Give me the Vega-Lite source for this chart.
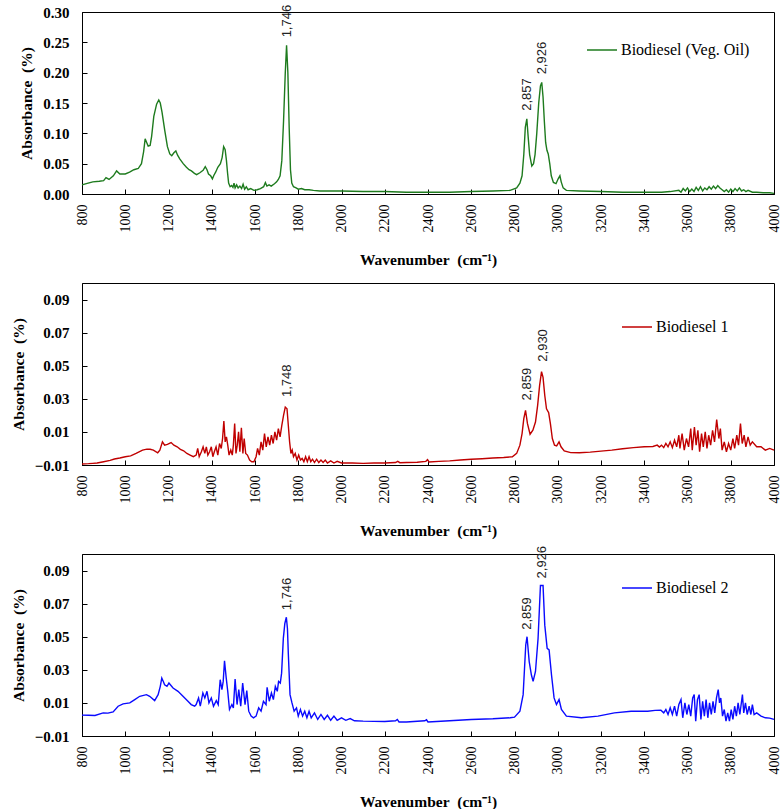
{
  "$schema": "https://vega.github.io/schema/vega-lite/v6.json",
  "padding": {"left": 10, "top": 4, "right": 0, "bottom": 0},
  "spacing": 89,
  "bounds": "flush",
  "resolve": {"scale": {"color": "independent"}, "legend": {"color": "independent"}},
  "datasets": {
    "veg": [
      {"wn":800,"a":0.015},{"wn":820,"a":0.017},{"wn":850,"a":0.020},{"wn":880,"a":0.021},{"wn":900,"a":0.022},{"wn":911,"a":0.027},{"wn":925,"a":0.024},{"wn":945,"a":0.030},{"wn":960,"a":0.038},{"wn":975,"a":0.033},{"wn":1000,"a":0.033},{"wn":1020,"a":0.036},{"wn":1040,"a":0.040},{"wn":1060,"a":0.042},{"wn":1075,"a":0.050},{"wn":1085,"a":0.070},{"wn":1092,"a":0.091},{"wn":1100,"a":0.084},{"wn":1106,"a":0.079},{"wn":1115,"a":0.080},{"wn":1122,"a":0.095},{"wn":1132,"a":0.128},{"wn":1145,"a":0.148},{"wn":1155,"a":0.155},{"wn":1162,"a":0.150},{"wn":1170,"a":0.135},{"wn":1183,"a":0.104},{"wn":1195,"a":0.078},{"wn":1206,"a":0.066},{"wn":1215,"a":0.063},{"wn":1225,"a":0.068},{"wn":1234,"a":0.071},{"wn":1242,"a":0.064},{"wn":1252,"a":0.058},{"wn":1268,"a":0.050},{"wn":1283,"a":0.044},{"wn":1295,"a":0.040},{"wn":1306,"a":0.038},{"wn":1320,"a":0.034},{"wn":1330,"a":0.032},{"wn":1345,"a":0.035},{"wn":1360,"a":0.039},{"wn":1370,"a":0.045},{"wn":1378,"a":0.040},{"wn":1385,"a":0.033},{"wn":1395,"a":0.030},{"wn":1403,"a":0.025},{"wn":1410,"a":0.031},{"wn":1418,"a":0.036},{"wn":1428,"a":0.044},{"wn":1440,"a":0.050},{"wn":1448,"a":0.060},{"wn":1455,"a":0.078},{"wn":1462,"a":0.073},{"wn":1468,"a":0.055},{"wn":1473,"a":0.035},{"wn":1478,"a":0.018},{"wn":1485,"a":0.012},{"wn":1492,"a":0.014},{"wn":1498,"a":0.011},{"wn":1503,"a":0.018},{"wn":1508,"a":0.010},{"wn":1515,"a":0.015},{"wn":1522,"a":0.010},{"wn":1530,"a":0.013},{"wn":1538,"a":0.009},{"wn":1545,"a":0.016},{"wn":1552,"a":0.008},{"wn":1560,"a":0.012},{"wn":1568,"a":0.007},{"wn":1580,"a":0.009},{"wn":1595,"a":0.006},{"wn":1610,"a":0.007},{"wn":1625,"a":0.009},{"wn":1640,"a":0.012},{"wn":1648,"a":0.019},{"wn":1655,"a":0.013},{"wn":1665,"a":0.015},{"wn":1675,"a":0.013},{"wn":1690,"a":0.017},{"wn":1700,"a":0.020},{"wn":1708,"a":0.024},{"wn":1716,"a":0.030},{"wn":1724,"a":0.055},{"wn":1732,"a":0.120},{"wn":1740,"a":0.200},{"wn":1746,"a":0.245},{"wn":1752,"a":0.200},{"wn":1758,"a":0.110},{"wn":1764,"a":0.040},{"wn":1770,"a":0.018},{"wn":1778,"a":0.012},{"wn":1790,"a":0.010},{"wn":1800,"a":0.008},{"wn":1815,"a":0.009},{"wn":1830,"a":0.007},{"wn":1850,"a":0.007},{"wn":1870,"a":0.006},{"wn":1900,"a":0.005},{"wn":1950,"a":0.005},{"wn":2000,"a":0.005},{"wn":2100,"a":0.004},{"wn":2200,"a":0.004},{"wn":2300,"a":0.003},{"wn":2400,"a":0.003},{"wn":2500,"a":0.003},{"wn":2600,"a":0.004},{"wn":2700,"a":0.005},{"wn":2780,"a":0.006},{"wn":2810,"a":0.010},{"wn":2825,"a":0.018},{"wn":2835,"a":0.030},{"wn":2843,"a":0.065},{"wn":2850,"a":0.110},{"wn":2857,"a":0.124},{"wn":2863,"a":0.095},{"wn":2870,"a":0.065},{"wn":2880,"a":0.046},{"wn":2888,"a":0.050},{"wn":2895,"a":0.065},{"wn":2903,"a":0.100},{"wn":2912,"a":0.150},{"wn":2920,"a":0.178},{"wn":2926,"a":0.184},{"wn":2932,"a":0.160},{"wn":2938,"a":0.120},{"wn":2944,"a":0.085},{"wn":2950,"a":0.072},{"wn":2956,"a":0.066},{"wn":2963,"a":0.050},{"wn":2970,"a":0.030},{"wn":2980,"a":0.019},{"wn":2992,"a":0.017},{"wn":3002,"a":0.025},{"wn":3010,"a":0.030},{"wn":3016,"a":0.020},{"wn":3025,"a":0.010},{"wn":3040,"a":0.006},{"wn":3100,"a":0.005},{"wn":3200,"a":0.004},{"wn":3300,"a":0.003},{"wn":3400,"a":0.003},{"wn":3480,"a":0.003},{"wn":3520,"a":0.004},{"wn":3560,"a":0.006},{"wn":3570,"a":0.003},{"wn":3580,"a":0.009},{"wn":3590,"a":0.005},{"wn":3600,"a":0.010},{"wn":3610,"a":0.004},{"wn":3620,"a":0.008},{"wn":3630,"a":0.004},{"wn":3640,"a":0.011},{"wn":3650,"a":0.006},{"wn":3660,"a":0.012},{"wn":3670,"a":0.005},{"wn":3680,"a":0.010},{"wn":3690,"a":0.007},{"wn":3700,"a":0.012},{"wn":3710,"a":0.008},{"wn":3720,"a":0.013},{"wn":3730,"a":0.009},{"wn":3740,"a":0.014},{"wn":3750,"a":0.010},{"wn":3760,"a":0.007},{"wn":3770,"a":0.004},{"wn":3780,"a":0.007},{"wn":3790,"a":0.003},{"wn":3800,"a":0.008},{"wn":3810,"a":0.004},{"wn":3820,"a":0.009},{"wn":3830,"a":0.005},{"wn":3840,"a":0.010},{"wn":3850,"a":0.005},{"wn":3860,"a":0.007},{"wn":3870,"a":0.004},{"wn":3880,"a":0.006},{"wn":3900,"a":0.003},{"wn":3920,"a":0.003},{"wn":3950,"a":0.002},{"wn":3980,"a":0.002},{"wn":4000,"a":0.001}
    ],
    "b1": [
      {"wn":800,"a":-0.0094},{"wn":830,"a":-0.0092},{"wn":850,"a":-0.009},{"wn":870,"a":-0.0088},{"wn":900,"a":-0.008},{"wn":930,"a":-0.0072},{"wn":950,"a":-0.0064},{"wn":975,"a":-0.0058},{"wn":1000,"a":-0.005},{"wn":1025,"a":-0.0045},{"wn":1050,"a":-0.003},{"wn":1080,"a":-0.001},{"wn":1100,"a":-0.0004},{"wn":1115,"a":-0.0005},{"wn":1130,"a":-0.001},{"wn":1150,"a":-0.0026},{"wn":1160,"a":-0.001},{"wn":1172,"a":0.004},{"wn":1182,"a":0.002},{"wn":1195,"a":0.0025},{"wn":1212,"a":0.0036},{"wn":1225,"a":0.002},{"wn":1240,"a":0.001},{"wn":1255,"a":-0.0005},{"wn":1270,"a":-0.0014},{"wn":1285,"a":-0.003},{"wn":1300,"a":-0.004},{"wn":1315,"a":-0.005},{"wn":1328,"a":-0.004},{"wn":1335,"a":0.0},{"wn":1342,"a":-0.005},{"wn":1352,"a":-0.002},{"wn":1360,"a":0.001},{"wn":1368,"a":-0.003},{"wn":1375,"a":0.001},{"wn":1382,"a":-0.004},{"wn":1390,"a":-0.002},{"wn":1398,"a":0.001},{"wn":1405,"a":-0.005},{"wn":1412,"a":-0.002},{"wn":1420,"a":0.001},{"wn":1428,"a":-0.004},{"wn":1436,"a":0.003},{"wn":1444,"a":0.0},{"wn":1450,"a":0.006},{"wn":1456,"a":0.0166},{"wn":1462,"a":0.004},{"wn":1468,"a":0.007},{"wn":1474,"a":0.002},{"wn":1480,"a":-0.004},{"wn":1488,"a":-0.001},{"wn":1495,"a":-0.004},{"wn":1500,"a":0.002},{"wn":1506,"a":0.015},{"wn":1512,"a":-0.003},{"wn":1518,"a":0.002},{"wn":1524,"a":0.010},{"wn":1530,"a":-0.002},{"wn":1537,"a":0.0125},{"wn":1544,"a":-0.003},{"wn":1550,"a":0.006},{"wn":1557,"a":-0.003},{"wn":1565,"a":-0.004},{"wn":1575,"a":-0.007},{"wn":1585,"a":-0.008},{"wn":1595,"a":-0.008},{"wn":1605,"a":-0.005},{"wn":1612,"a":0.0},{"wn":1620,"a":-0.004},{"wn":1628,"a":0.004},{"wn":1636,"a":-0.001},{"wn":1644,"a":0.009},{"wn":1652,"a":0.001},{"wn":1660,"a":0.007},{"wn":1668,"a":0.002},{"wn":1676,"a":0.008},{"wn":1684,"a":0.003},{"wn":1692,"a":0.010},{"wn":1700,"a":0.005},{"wn":1708,"a":0.012},{"wn":1716,"a":0.007},{"wn":1724,"a":0.014},{"wn":1732,"a":0.020},{"wn":1740,"a":0.025},{"wn":1748,"a":0.024},{"wn":1754,"a":0.014},{"wn":1760,"a":0.004},{"wn":1766,"a":-0.003},{"wn":1772,"a":-0.001},{"wn":1778,"a":-0.005},{"wn":1786,"a":-0.003},{"wn":1794,"a":-0.007},{"wn":1802,"a":-0.004},{"wn":1810,"a":-0.007},{"wn":1818,"a":-0.006},{"wn":1826,"a":-0.008},{"wn":1834,"a":-0.005},{"wn":1842,"a":-0.008},{"wn":1850,"a":-0.005},{"wn":1858,"a":-0.008},{"wn":1866,"a":-0.0065},{"wn":1875,"a":-0.0085},{"wn":1885,"a":-0.0065},{"wn":1895,"a":-0.0085},{"wn":1905,"a":-0.007},{"wn":1915,"a":-0.0085},{"wn":1925,"a":-0.007},{"wn":1935,"a":-0.0088},{"wn":1950,"a":-0.0075},{"wn":1965,"a":-0.0088},{"wn":1980,"a":-0.0078},{"wn":2000,"a":-0.0088},{"wn":2050,"a":-0.0088},{"wn":2100,"a":-0.009},{"wn":2150,"a":-0.0088},{"wn":2200,"a":-0.0088},{"wn":2250,"a":-0.0085},{"wn":2260,"a":-0.0078},{"wn":2270,"a":-0.0086},{"wn":2300,"a":-0.0085},{"wn":2350,"a":-0.0083},{"wn":2390,"a":-0.0078},{"wn":2398,"a":-0.0068},{"wn":2405,"a":-0.0082},{"wn":2450,"a":-0.0078},{"wn":2500,"a":-0.0075},{"wn":2550,"a":-0.007},{"wn":2600,"a":-0.0065},{"wn":2650,"a":-0.0062},{"wn":2700,"a":-0.0058},{"wn":2750,"a":-0.0055},{"wn":2790,"a":-0.005},{"wn":2810,"a":-0.003},{"wn":2825,"a":0.002},{"wn":2835,"a":0.009},{"wn":2843,"a":0.018},{"wn":2851,"a":0.023},{"wn":2860,"a":0.015},{"wn":2872,"a":0.0086},{"wn":2885,"a":0.011},{"wn":2897,"a":0.016},{"wn":2907,"a":0.026},{"wn":2916,"a":0.038},{"wn":2925,"a":0.0464},{"wn":2932,"a":0.043},{"wn":2940,"a":0.032},{"wn":2948,"a":0.024},{"wn":2958,"a":0.0216},{"wn":2966,"a":0.015},{"wn":2975,"a":0.006},{"wn":2985,"a":0.002},{"wn":2995,"a":0.0015},{"wn":3006,"a":0.004},{"wn":3015,"a":0.001},{"wn":3030,"a":-0.0015},{"wn":3060,"a":-0.0025},{"wn":3100,"a":-0.0026},{"wn":3150,"a":-0.0022},{"wn":3200,"a":-0.0016},{"wn":3250,"a":-0.001},{"wn":3300,"a":-0.0002},{"wn":3350,"a":0.0005},{"wn":3400,"a":0.001},{"wn":3440,"a":0.0012},{"wn":3460,"a":0.002},{"wn":3470,"a":0.0008},{"wn":3480,"a":0.002},{"wn":3490,"a":0.0005},{"wn":3500,"a":0.003},{"wn":3510,"a":0.001},{"wn":3520,"a":0.004},{"wn":3530,"a":0.0005},{"wn":3540,"a":0.005},{"wn":3550,"a":0.001},{"wn":3560,"a":0.008},{"wn":3565,"a":0.0},{"wn":3575,"a":0.009},{"wn":3585,"a":-0.001},{"wn":3595,"a":0.006},{"wn":3605,"a":0.001},{"wn":3615,"a":0.012},{"wn":3622,"a":-0.001},{"wn":3632,"a":0.013},{"wn":3640,"a":0.002},{"wn":3648,"a":0.011},{"wn":3656,"a":-0.002},{"wn":3665,"a":0.009},{"wn":3673,"a":0.001},{"wn":3682,"a":0.010},{"wn":3690,"a":0.0},{"wn":3698,"a":0.008},{"wn":3707,"a":0.002},{"wn":3716,"a":0.011},{"wn":3725,"a":0.004},{"wn":3735,"a":0.0175},{"wn":3745,"a":0.006},{"wn":3752,"a":0.012},{"wn":3760,"a":-0.001},{"wn":3770,"a":0.004},{"wn":3780,"a":-0.002},{"wn":3790,"a":0.003},{"wn":3800,"a":-0.001},{"wn":3810,"a":0.006},{"wn":3818,"a":0.0},{"wn":3828,"a":0.008},{"wn":3836,"a":0.002},{"wn":3845,"a":0.015},{"wn":3853,"a":0.003},{"wn":3862,"a":0.008},{"wn":3870,"a":0.001},{"wn":3880,"a":0.007},{"wn":3890,"a":0.002},{"wn":3900,"a":0.004},{"wn":3920,"a":0.001},{"wn":3940,"a":0.001},{"wn":3960,"a":-0.001},{"wn":3980,"a":0.0},{"wn":4000,"a":-0.001}
    ],
    "b2": [
      {"wn":800,"a":0.0026},{"wn":830,"a":0.0025},{"wn":860,"a":0.0024},{"wn":898,"a":0.004},{"wn":920,"a":0.0038},{"wn":944,"a":0.0046},{"wn":967,"a":0.008},{"wn":990,"a":0.0094},{"wn":1021,"a":0.010},{"wn":1044,"a":0.012},{"wn":1067,"a":0.014},{"wn":1098,"a":0.015},{"wn":1113,"a":0.014},{"wn":1136,"a":0.0114},{"wn":1152,"a":0.015},{"wn":1162,"a":0.020},{"wn":1169,"a":0.025},{"wn":1176,"a":0.023},{"wn":1182,"a":0.021},{"wn":1193,"a":0.020},{"wn":1202,"a":0.022},{"wn":1221,"a":0.019},{"wn":1244,"a":0.017},{"wn":1267,"a":0.014},{"wn":1290,"a":0.011},{"wn":1305,"a":0.009},{"wn":1321,"a":0.008},{"wn":1328,"a":0.009},{"wn":1339,"a":0.013},{"wn":1347,"a":0.008},{"wn":1359,"a":0.016},{"wn":1368,"a":0.013},{"wn":1378,"a":0.017},{"wn":1387,"a":0.010},{"wn":1398,"a":0.013},{"wn":1408,"a":0.008},{"wn":1421,"a":0.0114},{"wn":1430,"a":0.009},{"wn":1439,"a":0.024},{"wn":1447,"a":0.018},{"wn":1453,"a":0.023},{"wn":1459,"a":0.0354},{"wn":1467,"a":0.025},{"wn":1474,"a":0.017},{"wn":1482,"a":0.006},{"wn":1493,"a":0.009},{"wn":1500,"a":0.007},{"wn":1508,"a":0.0244},{"wn":1517,"a":0.009},{"wn":1525,"a":0.018},{"wn":1534,"a":0.008},{"wn":1543,"a":0.022},{"wn":1554,"a":0.009},{"wn":1562,"a":0.0174},{"wn":1571,"a":0.005},{"wn":1582,"a":0.002},{"wn":1593,"a":0.001},{"wn":1605,"a":0.002},{"wn":1617,"a":0.007},{"wn":1628,"a":0.005},{"wn":1639,"a":0.011},{"wn":1651,"a":0.009},{"wn":1656,"a":0.0194},{"wn":1666,"a":0.011},{"wn":1676,"a":0.016},{"wn":1685,"a":0.012},{"wn":1694,"a":0.020},{"wn":1703,"a":0.017},{"wn":1709,"a":0.023},{"wn":1717,"a":0.022},{"wn":1723,"a":0.028},{"wn":1731,"a":0.049},{"wn":1738,"a":0.058},{"wn":1745,"a":0.0618},{"wn":1750,"a":0.055},{"wn":1754,"a":0.040},{"wn":1762,"a":0.015},{"wn":1771,"a":0.010},{"wn":1781,"a":0.005},{"wn":1792,"a":0.007},{"wn":1800,"a":0.002},{"wn":1810,"a":0.006},{"wn":1820,"a":0.002},{"wn":1830,"a":0.005},{"wn":1840,"a":0.001},{"wn":1850,"a":0.005},{"wn":1860,"a":0.001},{"wn":1875,"a":0.004},{"wn":1890,"a":0.0},{"wn":1905,"a":0.003},{"wn":1920,"a":0.0},{"wn":1935,"a":0.0025},{"wn":1950,"a":-0.0005},{"wn":1965,"a":0.002},{"wn":1980,"a":-0.0005},{"wn":2000,"a":0.001},{"wn":2020,"a":-0.0005},{"wn":2040,"a":0.0005},{"wn":2060,"a":-0.0008},{"wn":2100,"a":-0.001},{"wn":2200,"a":-0.0012},{"wn":2250,"a":-0.0008},{"wn":2258,"a":0.0},{"wn":2266,"a":-0.0015},{"wn":2300,"a":-0.0015},{"wn":2385,"a":-0.0008},{"wn":2393,"a":-0.0002},{"wn":2400,"a":-0.0015},{"wn":2500,"a":-0.0008},{"wn":2600,"a":0.0},{"wn":2700,"a":0.0004},{"wn":2780,"a":0.001},{"wn":2800,"a":0.0014},{"wn":2825,"a":0.005},{"wn":2840,"a":0.015},{"wn":2852,"a":0.045},{"wn":2858,"a":0.050},{"wn":2868,"a":0.035},{"wn":2878,"a":0.027},{"wn":2886,"a":0.023},{"wn":2897,"a":0.029},{"wn":2909,"a":0.049},{"wn":2920,"a":0.081},{"wn":2932,"a":0.081},{"wn":2940,"a":0.057},{"wn":2951,"a":0.043},{"wn":2960,"a":0.042},{"wn":2971,"a":0.027},{"wn":2983,"a":0.013},{"wn":2994,"a":0.009},{"wn":3006,"a":0.012},{"wn":3017,"a":0.006},{"wn":3040,"a":0.002},{"wn":3109,"a":0.001},{"wn":3186,"a":0.002},{"wn":3262,"a":0.004},{"wn":3339,"a":0.005},{"wn":3416,"a":0.005},{"wn":3450,"a":0.0055},{"wn":3477,"a":0.0056},{"wn":3490,"a":0.004},{"wn":3500,"a":0.006},{"wn":3510,"a":0.003},{"wn":3520,"a":0.007},{"wn":3530,"a":0.003},{"wn":3540,"a":0.008},{"wn":3550,"a":0.002},{"wn":3560,"a":0.009},{"wn":3570,"a":0.012},{"wn":3578,"a":0.001},{"wn":3588,"a":0.010},{"wn":3597,"a":0.003},{"wn":3606,"a":0.009},{"wn":3615,"a":0.002},{"wn":3624,"a":0.013},{"wn":3631,"a":0.015},{"wn":3638,"a":-0.001},{"wn":3646,"a":0.012},{"wn":3654,"a":0.015},{"wn":3662,"a":0.0},{"wn":3670,"a":0.011},{"wn":3678,"a":0.002},{"wn":3686,"a":0.012},{"wn":3694,"a":0.001},{"wn":3702,"a":0.010},{"wn":3710,"a":0.003},{"wn":3718,"a":0.011},{"wn":3726,"a":0.004},{"wn":3734,"a":0.013},{"wn":3742,"a":0.018},{"wn":3748,"a":0.010},{"wn":3754,"a":0.013},{"wn":3762,"a":0.002},{"wn":3770,"a":0.006},{"wn":3778,"a":-0.001},{"wn":3786,"a":0.004},{"wn":3794,"a":-0.001},{"wn":3802,"a":0.006},{"wn":3810,"a":0.0},{"wn":3818,"a":0.008},{"wn":3826,"a":0.002},{"wn":3834,"a":0.010},{"wn":3842,"a":0.003},{"wn":3854,"a":0.015},{"wn":3860,"a":0.004},{"wn":3868,"a":0.010},{"wn":3876,"a":0.003},{"wn":3885,"a":0.008},{"wn":3893,"a":0.003},{"wn":3900,"a":0.009},{"wn":3908,"a":0.003},{"wn":3920,"a":0.004},{"wn":3940,"a":0.002},{"wn":3960,"a":0.001},{"wn":3980,"a":0.0008},{"wn":4000,"a":0.0}
    ],
    "veg_peaks": [{"wn":1746,"a":0.245,"label":"1,746"},{"wn":2857,"a":0.124,"label":"2,857"},{"wn":2926,"a":0.184,"label":"2,926"}],
    "b1_peaks": [{"wn":1748,"a":0.025,"label":"1,748"},{"wn":2859,"a":0.023,"label":"2,859"},{"wn":2930,"a":0.0464,"label":"2,930"}],
    "b2_peaks": [{"wn":1746,"a":0.0618,"label":"1,746"},{"wn":2859,"a":0.050,"label":"2,859"},{"wn":2926,"a":0.081,"label":"2,926"}]
  },
  "vconcat": [
    {
      "width": 692, "height": 182,
      "layer": [
        {
          "data": {"name": "veg"},
          "mark": {"type": "line", "strokeWidth": 1.4},
          "encoding": {
            "x": {"field": "wn", "type": "quantitative", "scale": {"domain": [800, 4000], "nice": false, "zero": false}, "axis": {"values": [800,1000,1200,1400,1600,1800,2000,2200,2400,2600,2800,3000,3200,3400,3600,3800,4000], "tickCount": 40, "format": "d", "labelOverlap": false, "labelFlush": false, "title": "Wavenumber\u00a0 (cm⁻¹)"}},
            "y": {"field": "a", "type": "quantitative", "scale": {"domain": [0, 0.3], "nice": false}, "axis": {"values": [0,0.05,0.1,0.15,0.2,0.25,0.3], "tickCount": 20, "format": ".2f", "labelOverlap": false, "labelFlush": false, "title": "Absorbance\u00a0 (%)"}},
            "color": {"datum": "Biodiesel (Veg. Oil)", "type": "nominal", "scale": {"domain": ["Biodiesel (Veg. Oil)"], "range": ["#1E7B1E"]}, "legend": {"orient": "none", "legendX": 504, "legendY": 22}}
          }
        },
        {
          "data": {"name": "veg_peaks"},
          "mark": {"type": "text", "angle": 270, "align": "left", "baseline": "middle", "dx": 8, "font": "Liberation Sans", "fontSize": 13, "color": "#222222"},
          "encoding": {
            "x": {"field": "wn", "type": "quantitative"},
            "y": {"field": "a", "type": "quantitative"},
            "text": {"field": "label"}
          }
        }
      ]
    },
    {
      "width": 692, "height": 182,
      "layer": [
        {
          "data": {"name": "b1"},
          "mark": {"type": "line", "strokeWidth": 1.4},
          "encoding": {
            "x": {"field": "wn", "type": "quantitative", "scale": {"domain": [800, 4000], "nice": false, "zero": false}, "axis": {"values": [800,1000,1200,1400,1600,1800,2000,2200,2400,2600,2800,3000,3200,3400,3600,3800,4000], "tickCount": 40, "format": "d", "labelOverlap": false, "labelFlush": false, "title": "Wavenumber\u00a0 (cm⁻¹)"}},
            "y": {"field": "a", "type": "quantitative", "scale": {"domain": [-0.01, 0.1], "nice": false, "zero": false}, "axis": {"values": [-0.01,0.01,0.03,0.05,0.07,0.09], "tickCount": 20, "format": ".2f", "labelOverlap": false, "labelFlush": false, "title": "Absorbance\u00a0 (%)"}},
            "color": {"datum": "Biodiesel 1", "type": "nominal", "scale": {"domain": ["Biodiesel 1"], "range": ["#C00000"]}, "legend": {"orient": "none", "legendX": 539, "legendY": 28}}
          }
        },
        {
          "data": {"name": "b1_peaks"},
          "mark": {"type": "text", "angle": 270, "align": "left", "baseline": "middle", "dx": 10, "font": "Liberation Sans", "fontSize": 13, "color": "#222222"},
          "encoding": {
            "x": {"field": "wn", "type": "quantitative"},
            "y": {"field": "a", "type": "quantitative"},
            "text": {"field": "label"}
          }
        }
      ]
    },
    {
      "width": 692, "height": 182,
      "layer": [
        {
          "data": {"name": "b2"},
          "mark": {"type": "line", "strokeWidth": 1.4},
          "encoding": {
            "x": {"field": "wn", "type": "quantitative", "scale": {"domain": [800, 4000], "nice": false, "zero": false}, "axis": {"values": [800,1000,1200,1400,1600,1800,2000,2200,2400,2600,2800,3000,3200,3400,3600,3800,4000], "tickCount": 40, "format": "d", "labelOverlap": false, "labelFlush": false, "title": "Wavenumber\u00a0 (cm⁻¹)"}},
            "y": {"field": "a", "type": "quantitative", "scale": {"domain": [-0.01, 0.1], "nice": false, "zero": false}, "axis": {"values": [-0.01,0.01,0.03,0.05,0.07,0.09], "tickCount": 20, "format": ".2f", "labelOverlap": false, "labelFlush": false, "title": "Absorbance\u00a0 (%)"}},
            "color": {"datum": "Biodiesel 2", "type": "nominal", "scale": {"domain": ["Biodiesel 2"], "range": ["#0A0AFF"]}, "legend": {"orient": "none", "legendX": 539, "legendY": 18}}
          }
        },
        {
          "data": {"name": "b2_peaks"},
          "mark": {"type": "text", "angle": 270, "align": "left", "baseline": "middle", "dx": 7, "font": "Liberation Sans", "fontSize": 13, "color": "#222222"},
          "encoding": {
            "x": {"field": "wn", "type": "quantitative"},
            "y": {"field": "a", "type": "quantitative"},
            "text": {"field": "label"}
          }
        }
      ]
    }
  ],
  "config": {
    "view": {"stroke": "black", "strokeWidth": 1},
    "axis": {"grid": false, "domainColor": "black", "domainWidth": 1, "tickColor": "black", "tickSize": -5, "labelFlush": false, "labelOverlap": false, "titleFont": "Liberation Serif", "titleFontSize": 15.5, "titleFontWeight": "bold", "titleColor": "black", "labelColor": "black", "labelFont": "Liberation Serif"},
    "axisX": {"labelAngle": 270, "labelFontSize": 14, "labelFontWeight": "normal", "labelPadding": 15, "titlePadding": 20},
    "axisY": {"labelFontSize": 15, "labelFontWeight": "bold", "labelPadding": 18, "titlePadding": 8},
    "legend": {"title": null, "symbolType": "stroke", "symbolSize": 900, "symbolStrokeWidth": 1.5, "labelFont": "Liberation Serif", "labelFontSize": 16, "labelColor": "black", "labelOffset": 3, "padding": 0}
  }
}
